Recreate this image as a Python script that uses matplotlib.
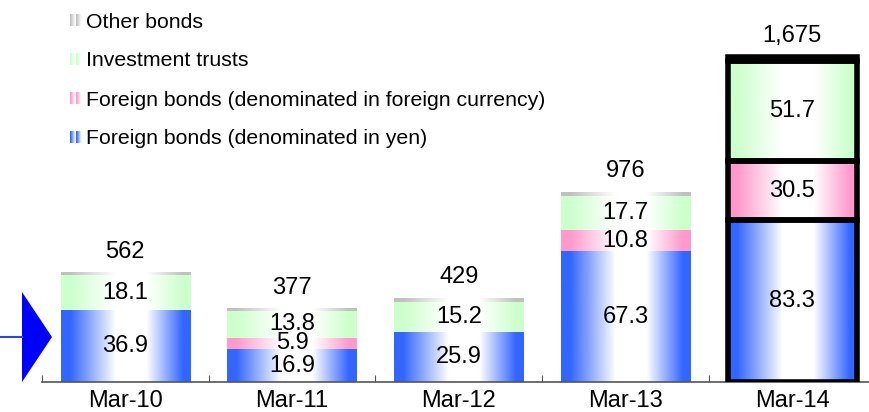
import numpy as np
import matplotlib
matplotlib.use('Agg')
import matplotlib.pyplot as plt
from matplotlib.colors import LinearSegmentedColormap
from matplotlib.patches import Rectangle, Polygon
from matplotlib.lines import Line2D
import matplotlib.transforms as mtrans

plt.rcParams['font.family'] = ['Liberation Sans', 'DejaVu Sans']

# ---- data ----
categories = ['Mar-10', 'Mar-11', 'Mar-12', 'Mar-13', 'Mar-14']
totals = [562, 377, 429, 976, 1675]            # 100 million yen
yen_bonds = [36.9, 16.9, 25.9, 67.3, 83.3]     # billion yen
fx_bonds = [0.0, 5.9, 0.0, 10.8, 30.5]
inv_trusts = [18.1, 13.8, 15.2, 17.7, 51.7]
other_bonds = [1.2, 1.1, 1.8, 1.8, 2.0]

series_names = ['Foreign bonds (denominated in yen)',
                'Foreign bonds (denominated in foreign currency)',
                'Investment trusts',
                'Other bonds']
series_vals = [yen_bonds, fx_bonds, inv_trusts, other_bonds]
series_cols = ['#3366FF', '#FF99CC', '#CCFFCC', '#C0C0C0']
highlight = 'Mar-14'

W, H = 869, 412
fig = plt.figure(figsize=(W / 100, H / 100), dpi=100)
ax = fig.add_axes([42 / W, 30 / H, 827 / W, 382 / H])

def grad_cmap(c):
    return LinearSegmentedColormap.from_list(
        'g', [(0.0, c), (0.07, c), (0.42, 'white'), (0.66, 'white'), (0.94, c), (1.0, c)])

grad = np.linspace(0, 1, 256).reshape(1, -1)
width = 0.775
x = np.arange(len(categories))
bottoms = np.zeros(len(categories))
for name, vals, col in zip(series_names, series_vals, series_cols):
    cmap = grad_cmap(col)
    for i, v in enumerate(vals):
        if v <= 0:
            continue
        x0, x1 = x[i] - width / 2, x[i] + width / 2
        y0, y1 = bottoms[i], bottoms[i] + v
        ax.imshow(grad, cmap=cmap, extent=(x0, x1, y0, y1), aspect='auto',
                  interpolation='bilinear', zorder=2)
        if categories[i] == highlight:
            ax.add_patch(Rectangle((x0, y0), width, v, fill=False,
                                   edgecolor='black', lw=4, zorder=3))
        if name != 'Other bonds':
            ax.text(x[i], (y0 + y1) / 2, f'{v:.1f}', ha='center', va='center',
                    fontsize=17, zorder=4)
    bottoms += np.array(vals)

for i, t in enumerate(totals):
    ax.annotate(f'{t:,}', xy=(x[i], t / 10), xytext=(0, 11),
                textcoords='offset points', ha='center', va='baseline',
                fontsize=17)

for s in ['top', 'right', 'left']:
    ax.spines[s].set_visible(False)
ax.spines['bottom'].set_color('#555555')
ax.spines['bottom'].set_linewidth(1.2)
ax.set_yticks([])
ax.set_xticks(np.arange(-0.5, len(categories), 1))
ax.set_xticklabels([])
ax.tick_params(axis='x', which='major', direction='in', length=5, color='#555555')
ax.set_xticks(x, minor=True)
ax.set_xticklabels(categories, minor=True, fontsize=17)
ax.tick_params(axis='x', which='minor', length=0, pad=6)
ax.set_xlim(-0.5, -0.5 + 827 / 166.7)
ax.set_ylim(0, 382 / 1.94)
ax.patch.set_alpha(0)

# ---- pixel transform helper ----
pix = mtrans.Affine2D().scale(1 / W, -1 / H).translate(0, 1) + fig.transFigure

# arrow
fig.add_artist(Line2D([0, 22], [337, 337], color='#3344DD', lw=1.5, transform=pix))
fig.add_artist(Polygon([(22, 292), (22, 382), (52, 337)], closed=True,
                       facecolor='#0000FF', edgecolor='none', transform=pix))

# ---- legend (top to bottom) ----
leg_y = [20, 59, 98, 137]
for yy, name, col in zip(leg_y, series_names[::-1], series_cols[::-1]):
    lax = fig.add_axes([70 / W, 1 - (yy + 6) / H, 12 / W, 12 / H])
    mg = np.concatenate([np.linspace(0, 1, 6), np.linspace(0, 1, 6)]).reshape(1, -1)
    cm2 = LinearSegmentedColormap.from_list('m', [col, 'white'])
    lax.imshow(mg, cmap=cm2, aspect='auto', interpolation='nearest')
    lax.axis('off')
    fig.text(86 / W, 1 - (yy + 2) / H, name, ha='left', va='center', fontsize=15.3)

fig.savefig('out.png', dpi=100)
